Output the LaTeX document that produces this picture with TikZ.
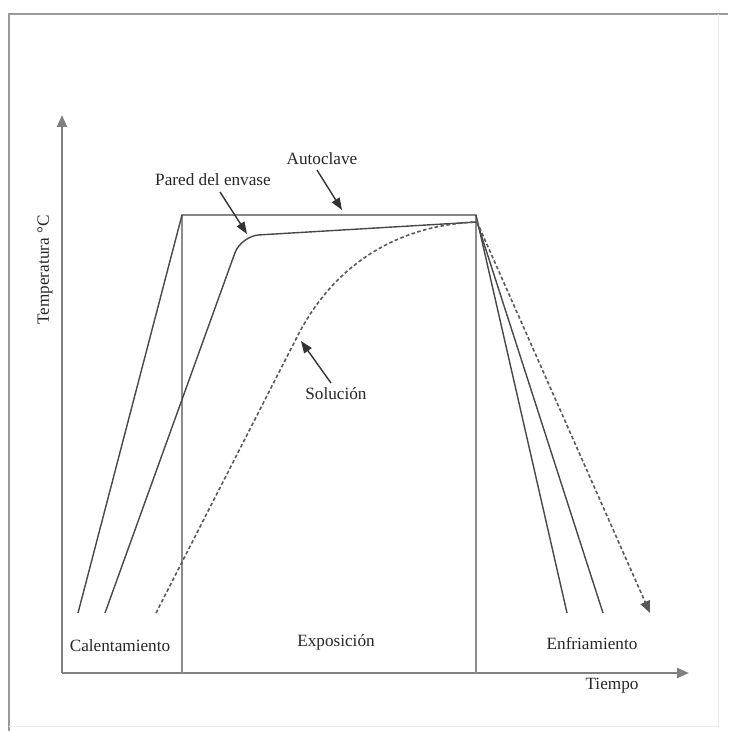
\documentclass[tikz,border=0pt]{standalone}
\usepackage{fontspec}
\setmainfont{Liberation Serif}
\usetikzlibrary{arrows.meta}
\begin{document}
\begin{tikzpicture}[x=0.5pt,y=-0.5pt,
  curve/.style={draw=black!72, line width=0.7pt},
  dashcurve/.style={draw=black!65, line width=0.8pt, dash pattern=on 1.8pt off 1.2pt},
  axis/.style={draw=black!50, line width=1.2pt, -{Triangle[length=6pt,width=5pt]}},
  divider/.style={draw=black!45, line width=0.8pt},
  pointer/.style={draw=black!80, line width=0.7pt, -{Triangle[length=6pt,width=4.5pt]}},
  lbl/.style={font=\fontsize{8.6}{10}\selectfont, text=black!85, inner sep=1pt}]
\useasboundingbox (0,0) rectangle (728,731);
% frame
\draw[draw=black!40, line width=1.1pt] (9,731) -- (9,14) -- (728,14);
\draw[draw=black!8, line width=0.5pt] (718,14) -- (718,726) -- (9,726);
% key points
\coordinate (o) at (62,673);
\coordinate (ytop) at (62,115);
\coordinate (xend) at (689,673);
\coordinate (v1top) at (182,215);
\coordinate (v1bot) at (182,673);
\coordinate (v2top) at (476,215);
\coordinate (v2bot) at (476,673);
\coordinate (aS) at (78,613);
\coordinate (aE) at (567,613);
\coordinate (wS) at (105,613);
\coordinate (wC) at (241,236);
\coordinate (wT) at (477,222);
\coordinate (wE) at (603,613);
\coordinate (sS) at (156,613);
\coordinate (sM) at (297,337);
\coordinate (sE) at (650,613);
% axes
\draw[axis] (o) -- (ytop);
\draw[axis] (o) -- (xend);
% dividers
\draw[divider] (v1top) -- (v1bot);
\draw[divider] (v2top) -- (v2bot);
% autoclave
\draw[curve] (aS) -- (v1top) -- (v2top) -- (aE);
% wall
\draw[curve, rounded corners=9pt] (wS) -- (wC) -- (wT);
\draw[curve] (wT) -- (wE);
% solution
\draw[dashcurve] (sS) -- (sM) .. controls (335,262) and (400,225) .. (wT);
\draw[dashcurve, -{Triangle[length=6pt,width=5pt]}] (wT) -- (sE);
% labels
\node[lbl] (calent) at (120,646) {Calentamiento};
\node[lbl] (expo) at (336,642) {Exposición};
\node[lbl] (enfri) at (592,644) {Enfriamiento};
\node[lbl] (tiempo) at (612,686) {Tiempo};
\node[lbl, rotate=90] (temp) at (45,270) {Temperatura °C};
\node[lbl] (pared) at (213,180) {Pared del envase};
\node[lbl] (autoc) at (322,159) {Autoclave};
\node[lbl] (soluc) at (336,394) {Solución};
% pointers
\coordinate (pH) at (247,234);
\coordinate (aH) at (342,210);
\coordinate (sH) at (301,341);
\draw[pointer] (220,192) -- (pH);
\draw[pointer] (317,170) -- (aH);
\draw[pointer] (331,383) -- (sH);
\end{tikzpicture}
\end{document}
